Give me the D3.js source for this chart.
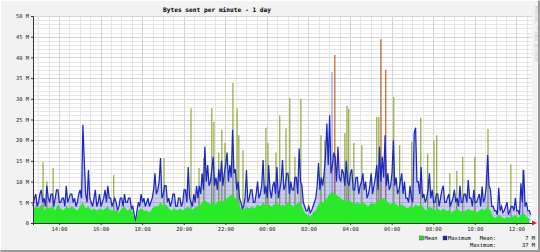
<!DOCTYPE html>
<html>
<head>
<meta charset="utf-8">
<script src="https://cdn.jsdelivr.net/npm/d3@7"></script>
<style>
  body { margin: 0; background: #fff; }
  text { font-family: "DejaVu Sans Mono", monospace; }
</style>
</head>
<body>
<div class="vis-rrd"></div>
<script>
// 24h window starting 12:45; mean sampled every 8 min, maximum every 4 min
const startTime = new Date(2024, 0, 1, 12, 45);
const meanStep = 8;
const maxStep = 4;

// values in M (millions of bytes)
const meanValues = [
  3,4,3.5,4.5,3,4,3.5,4,3,4.5,3.5,3,4,3.5,4,
  3.5,3,4,5,3.5,4,3,3.5,3,3.5,3,3.5,4,3,3,
  3,2.5,3.5,4,3,3.5,2.5,0.2,3,3.5,3,3,2.5,3.5,4,
  4,5,4,4.5,3.5,3,3.5,3,3.5,3,3.5,4,3,3.5,4,
  4,5,5.5,5,4.5,5,4.5,5.5,5,5.5,6,6.5,7,6,5,
  3.5,3,4,3.5,4,3.5,4.5,4,5,4,4.5,4,4.5,5,4,
  4.5,4,5,4.5,4,4.5,5,4,2.5,2,1.5,2.5,3,4.5,5,
  5,6,7,7.5,7,6.5,6,5.5,5,5.5,5,4.5,5,4.5,5,
  4.5,4,5,4.5,5,5.5,6,6,5,4.5,5,4.5,4,4.5,4,
  3.5,4,3.5,4.5,4,4.5,3.5,3,4,3.5,3,3.5,3,3.5,3,
  3,2.5,3,3.5,3,2.5,3,3.5,3,3,2.5,3,3.5,3,4,
  3,1.5,1.2,2,1.5,1,1.5,1.2,1.5,2,1.2,2,2.5,1.5,1
];
const maxValues = [
  4,6,7,4,5,7,8,5,6,4,9,6,5,7,7,4,6,8,8,5,5,6,6,4,9,5,6,7,7,5,
  6,4,5,7,8,6,23.7,15,7,5,12.8,6,5,4,6,8,4,5,7,4,5,6,8,5,9,6,6,4,5,6,
  5,3,4,6,6,4,7,5,5,6,6,3.5,4,2,0.3,3,5,4,7,5,6,4,5,6,4,5,6,8,12,7,
  8,10,15.7,6,7,9,9,5,6,4,5,7,7,4,4,6,6,4,5,8,8,5,13.5,6,5,4,7,5,9,6,
  9,7,12,8,18.4,10,14,9,10,13,16,9,11,8,13,10,15,9,12,14,17,10,14,11,22.5,12,13,8,10,6,
  5,3.5,4,6,12.8,5,6,8,8,5,5,7,10,6,7,9,15.2,7,9,6,14,8,6,9,10,7,13.5,6,8,10,
  15.2,8,9,12,12,7,10,8,8,11,11,7,18,10,9,5,4,3,3,4,2.5,3,4,5,6,9,14.5,8,11,9,
  12,16,24,14,26,12,14,17,16,10,18.4,11,10,13,12,9,15,10,9,12,13,8,8,11,11,7,9,10,12,8,
  10,6,7,9,12,7,9,11,14,8,18.4,10,16,11,21.2,9,12,8,9,12,20,9,11,7,8,10,12,7,10,6,
  6,5,9,6,5,21.7,23,10,10,7,13.5,6,7,5,6,8,12,6,8,5,5,7,7,4,6,8,9,5,5,6,
  7,4,5,6,8,5,6,4,9,5,5,7,7,5,10.4,6,6,4,8,5,5,6,7,4,8.8,5,6,9,16.4,9,
  8,4,4,3,3,2,8.5,3,4,2.5,3,4,5,2,3,4,4,3,6,3,3,2,9.6,5,12.8,4,5,3,3,2
];

// short bursts seen as thin tall lines
const spikeTimes = ["13:14","13:25","13:43","16:38","19:03","20:21","20:44","20:58","21:21","21:27",
  "21:41","21:50","21:59","22:22","22:34","22:39","22:51","23:57","00:03","00:26",
  "00:37","00:55","01:06","01:21","01:38","02:36","02:47","03:08","03:16","03:45",
  "03:51","03:56","04:11","04:34","05:17","05:23","05:29","05:43","06:06","06:23",
  "06:58","07:24","07:44","08:02","08:10","08:48","09:08","09:25","10:00","10:38",
  "11:44","12:18"];
const spikeValues = [14.7,10,13.3,11.6,15.7,27.7,13.3,15.7,27.7,24.4,
  17,22.5,19.3,33.8,27.7,21.2,17.6,23,19.3,17,
  26,22.9,30.2,16,30,21.2,20,36.5,40.6,21.7,
  28.3,27.6,19.3,18.8,25.6,25.6,44.4,37,30.4,18.8,
  19.6,25.4,16.7,20,21.2,12,12.6,16,16,22.7,
  14.2,12.8];
const spikeKinds = ["a","a","a","a","a","a","a","a","a","a",
  "a","a","a","a","a","a","a","a","a","a",
  "a","a","a","a","a","a","a","c","b","a",
  "a","a","a","a","a","a","b","b","a","a",
  "a","a","a","a","a","a","a","a","a","a",
  "a","c"];

const yTicks = [0,5,10,15,20,25,30,35,40,45,50];
const xTickLabels = ["14:00","16:00","18:00","20:00","22:00","00:00","02:00","04:00","06:00","08:00","10:00","12:00"];
const legendNames = ["Mean","Maximum"];
const summaryLabels = ["Mean:","Maximum:"];
const summaryValues = ["7 M","37 M"];

const W = 540, H = 252;
const plot = { left: 33, right: 532, top: 16, bottom: 223 };
const endTime = new Date(startTime.getTime() + 24 * 3600e3);

const svg = d3.select('.vis-rrd').append('svg')
  .attr('width', W).attr('height', H);

// frame
svg.append('rect').attr('width', W).attr('height', H).attr('fill', '#f2f2f2');
svg.append('path').attr('d', `M0.5,${H - 0.5}V0.5H${W - 0.5}`).attr('stroke', '#fff').attr('fill', 'none');
svg.append('path').attr('d', `M0.5,${H - 1}H${W - 1}V0.5`).attr('stroke', '#9a9a9a').attr('stroke-width', 2).attr('fill', 'none');

const x = d3.scaleTime().domain([startTime, endTime]).range([plot.left, plot.right]);
const y = d3.scaleLinear().domain([0, 50]).range([plot.bottom, plot.top]);

svg.append('rect')
  .attr('x', plot.left).attr('y', plot.top)
  .attr('width', plot.right - plot.left).attr('height', plot.bottom - plot.top)
  .attr('fill', '#fff');

// grid
const grid = svg.append('g');
grid.selectAll('.vmin').data(x.ticks(d3.timeMinute.every(30)))
  .enter().append('line')
  .attr('x1', d => Math.round(x(d)) + 0.5).attr('x2', d => Math.round(x(d)) + 0.5)
  .attr('y1', plot.top).attr('y2', plot.bottom)
  .attr('stroke', '#e4e4e4');
grid.selectAll('.hmin').data(d3.range(0, 51, 1))
  .enter().append('line')
  .attr('x1', plot.left).attr('x2', plot.right)
  .attr('y1', d => Math.round(y(d)) + 0.5).attr('y2', d => Math.round(y(d)) + 0.5)
  .attr('stroke', '#e8e8e8');
grid.selectAll('.vmaj').data(x.ticks(d3.timeHour.every(2)))
  .enter().append('line')
  .attr('x1', d => Math.round(x(d)) + 0.5).attr('x2', d => Math.round(x(d)) + 0.5)
  .attr('y1', plot.top).attr('y2', plot.bottom)
  .attr('stroke', '#d9d1d1');
grid.selectAll('.hmaj').data(yTicks)
  .enter().append('line')
  .attr('x1', plot.left).attr('x2', plot.right)
  .attr('y1', d => Math.round(y(d)) + 0.5).attr('y2', d => Math.round(y(d)) + 0.5)
  .attr('stroke', '#ddd5d5');

// data
const meanSeries = meanValues.map((v, i) => ({ t: new Date(startTime.getTime() + i * meanStep * 60e3), v }));
const maxSeries = maxValues.map((v, i) => ({ t: new Date(startTime.getTime() + i * maxStep * 60e3), v }));
const parseClock = s => {
  const [h, mi] = s.split(':').map(Number);
  const d = new Date(startTime);
  d.setHours(h, mi);
  if (d < startTime) d.setDate(d.getDate() + 1);
  return d;
};
const spikes = spikeTimes.map((s, i) => ({ t: parseClock(s), v: spikeValues[i], k: spikeKinds[i] }));
const spikeColor = d3.scaleOrdinal().domain(["a","b","c"]).range(['#8fa83c', '#c0602a', '#9a98d8']);

svg.append('g').selectAll('line').data(spikes)
  .enter().append('line')
  .attr('x1', d => x(d.t)).attr('x2', d => x(d.t))
  .attr('y1', y(0)).attr('y2', d => y(d.v))
  .attr('stroke', d => spikeColor(d.k))
  .attr('stroke-width', 1.2);

// maximum: faint fill plus dense outline
svg.append('path').datum(maxSeries)
  .attr('d', d3.area().x(d => x(d.t)).y0(y(0)).y1(d => y(d.v)))
  .attr('fill', 'rgba(35,45,195,0.24)');
svg.append('path').datum(maxSeries)
  .attr('d', d3.line().x(d => x(d.t)).y(d => y(d.v)))
  .attr('fill', 'none')
  .attr('stroke', '#1c28c0')
  .attr('stroke-width', 1.25);

svg.append('path').datum(meanSeries)
  .attr('d', d3.area().x(d => x(d.t)).y0(y(0)).y1(d => y(d.v)))
  .attr('fill', '#2ae82a');

// axes
const ax = svg.append('g').attr('transform', `translate(0,${plot.bottom})`)
  .call(d3.axisBottom(x).ticks(d3.timeHour.every(2)).tickFormat((d, i) => xTickLabels[i]).tickSize(2).tickPadding(2));
ax.select('.domain').attr('stroke', '#333');
ax.selectAll('.tick line').attr('stroke', '#333');
ax.selectAll('text').attr('font-size', 5.4).attr('font-family', 'DejaVu Sans Mono').attr('fill', '#222');

const ay = svg.append('g').attr('transform', `translate(${plot.left},0)`)
  .call(d3.axisLeft(y).tickValues(yTicks).tickFormat(d => d === 0 ? '0' : d + ' M').tickSize(2).tickPadding(2));
ay.select('.domain').attr('stroke', '#333');
ay.selectAll('.tick line').attr('stroke', '#333');
ay.selectAll('text').attr('font-size', 5.4).attr('font-family', 'DejaVu Sans Mono').attr('fill', '#222');

// arrow at end of time axis
svg.append('path')
  .attr('d', `M${plot.right},${plot.bottom - 2.5}L${plot.right + 5},${plot.bottom}L${plot.right},${plot.bottom + 2.5}Z`)
  .attr('fill', '#e02020');

// title
svg.append('text')
  .attr('x', 163).attr('y', 12)
  .attr('font-size', 6.2).attr('font-weight', 'bold')
  .text('Bytes sent per minute - 1 day');

// watermark
svg.append('text')
  .attr('transform', 'translate(535,6) rotate(90)')
  .attr('font-size', 4.2).attr('fill', '#c4c4c4')
  .text('RRDTOOL / TOBI OETIKER');

// legend
const legendColor = ['#2ae82a', '#1c28c0'];
const legendX = [419.5, 443];
const lg = svg.selectAll('.legend').data(legendNames)
  .enter().append('g')
  .attr('transform', (d, i) => `translate(${legendX[i]},236)`);
lg.append('rect').attr('width', 4).attr('height', 4)
  .attr('fill', (d, i) => legendColor[i]).attr('stroke', '#333').attr('stroke-width', 0.4);
lg.append('text').attr('x', 5).attr('y', 4).attr('font-size', 5.4).text(d => d);

svg.selectAll('.slabel').data(summaryLabels)
  .enter().append('text')
  .attr('x', 496).attr('y', (d, i) => 240 + i * 6.6)
  .attr('text-anchor', 'end').attr('font-size', 5.4)
  .text(d => d);
svg.selectAll('.svalue').data(summaryValues)
  .enter().append('text')
  .attr('x', 535).attr('y', (d, i) => 240 + i * 6.6)
  .attr('text-anchor', 'end').attr('font-size', 5.4)
  .text(d => d);
</script>
</body>
</html>
